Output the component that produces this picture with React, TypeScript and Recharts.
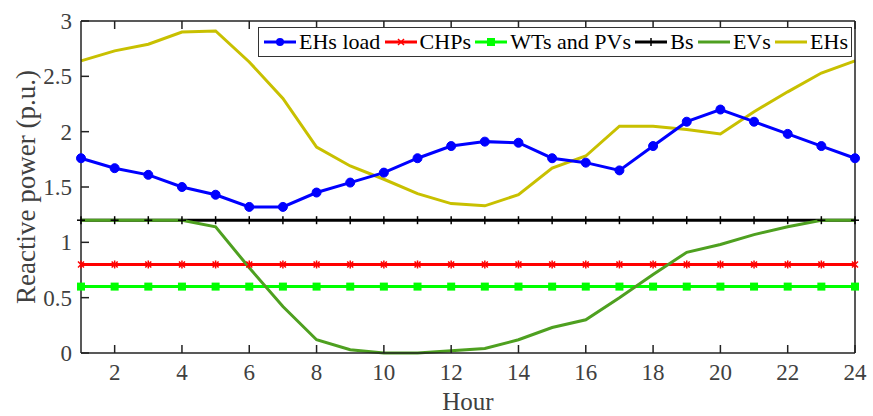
import React from "react";
import { LineChart, Line, XAxis, YAxis } from "recharts";

const hours = [1, 2, 3, 4, 5, 6, 7, 8, 9, 10, 11, 12, 13, 14, 15, 16, 17, 18, 19, 20, 21, 22, 23, 24];
const ehsLoad = [1.76, 1.67, 1.61, 1.5, 1.43, 1.32, 1.32, 1.45, 1.54, 1.63, 1.76, 1.87, 1.91, 1.9, 1.76, 1.72, 1.65, 1.87, 2.09, 2.2, 2.09, 1.98, 1.87, 1.76];
const chps = hours.map(() => 0.8);
const wtsPvs = hours.map(() => 0.6);
const bs = hours.map(() => 1.2);
const evs = [1.2, 1.2, 1.2, 1.2, 1.14, 0.77, 0.42, 0.12, 0.03, 0, 0, 0.02, 0.04, 0.12, 0.23, 0.3, 0.5, 0.71, 0.91, 0.98, 1.07, 1.14, 1.2, 1.2];
const ehs = [2.64, 2.73, 2.79, 2.9, 2.91, 2.63, 2.3, 1.86, 1.69, 1.57, 1.44, 1.35, 1.33, 1.43, 1.67, 1.78, 2.05, 2.05, 2.02, 1.98, 2.18, 2.36, 2.53, 2.64];

const xTicks = [2, 4, 6, 8, 10, 12, 14, 16, 18, 20, 22, 24];
const yTicks = [0, 0.5, 1, 1.5, 2, 2.5, 3];

const data = hours.map((h, i) => ({
  hour: h,
  ehsLoad: ehsLoad[i],
  chps: chps[i],
  wtsPvs: wtsPvs[i],
  bs: bs[i],
  evs: evs[i],
  ehs: ehs[i],
}));

const FONT = "Liberation Serif, Times New Roman, serif";
const TEXT = "#404040";
const txt = { fontFamily: FONT, fill: TEXT };

const BottomTick = ({ x, y, payload }: any) => (
  <g>
    <line x1={x} y1={y} x2={x} y2={y - 8} stroke="#222" strokeWidth={1.5} />
    <text x={x} y={y + 27} textAnchor="middle" style={{ ...txt, fontSize: 23 }}>
      {payload.value}
    </text>
  </g>
);

const TopTick = ({ x, y }: any) => (
  <line x1={x} y1={y} x2={x} y2={y + 8} stroke="#222" strokeWidth={1.5} />
);

const LeftTick = ({ x, y, payload }: any) => (
  <g>
    <line x1={x} y1={y} x2={x + 8} y2={y} stroke="#222" strokeWidth={1.5} />
    <text x={x - 9} y={y + 8} textAnchor="end" style={{ ...txt, fontSize: 23 }}>
      {payload.value}
    </text>
  </g>
);

const RightTick = ({ x, y }: any) => (
  <line x1={x} y1={y} x2={x - 8} y2={y} stroke="#222" strokeWidth={1.5} />
);

const circleDot = ({ cx, cy, index }: any) => (
  <circle key={index} cx={cx} cy={cy} r={4.5} fill="#0000ff" stroke="#0000ff" />
);

const starDot = ({ cx, cy, index }: any) => (
  <g key={index} stroke="#ff0000" strokeWidth={1.5}>
    <line x1={cx - 3} y1={cy - 3} x2={cx + 3} y2={cy + 3} />
    <line x1={cx - 3} y1={cy + 3} x2={cx + 3} y2={cy - 3} />
    <line x1={cx} y1={cy - 4} x2={cx} y2={cy + 4} />
  </g>
);

const squareDot = ({ cx, cy, index }: any) => (
  <rect key={index} x={cx - 4} y={cy - 4} width={8} height={8} fill="#00ff00" />
);

const plusDot = ({ cx, cy, index }: any) => (
  <g key={index} stroke="#000" strokeWidth={1.5}>
    <line x1={cx - 4} y1={cy} x2={cx + 4} y2={cy} />
    <line x1={cx} y1={cy - 4} x2={cx} y2={cy + 4} />
  </g>
);

const legendItems = [
  { name: "EHs load", color: "#0000ff", marker: "circle" },
  { name: "CHPs", color: "#ff0000", marker: "star" },
  { name: "WTs and PVs", color: "#00ff00", marker: "square" },
  { name: "Bs", color: "#000000", marker: "plus" },
  { name: "EVs", color: "#4ea020", marker: "none" },
  { name: "EHs", color: "#c8c000", marker: "none" },
];

const LegendMarker = ({ color, marker }: any) => (
  <svg width={32} height={10} style={{ marginRight: 3 }}>
    <line x1={0} y1={5} x2={32} y2={5} stroke={color} strokeWidth={3} />
    {marker === "circle" && <circle cx={16} cy={5} r={4} fill={color} />}
    {marker === "square" && <rect x={12} y={1} width={8} height={8} fill={color} />}
    {marker === "star" && (
      <g stroke={color} strokeWidth={1.5}>
        <line x1={13} y1={2} x2={19} y2={8} />
        <line x1={13} y1={8} x2={19} y2={2} />
      </g>
    )}
    {marker === "plus" && (
      <g stroke={color} strokeWidth={1.5}>
        <line x1={12} y1={5} x2={20} y2={5} />
        <line x1={16} y1={1} x2={16} y2={9} />
      </g>
    )}
  </svg>
);

const ChartLegend = () => (
  <div
    style={{
      position: "absolute",
      top: 27,
      left: 258,
      width: 594,
      height: 30,
      boxSizing: "border-box",
      display: "flex",
      alignItems: "center",
      justifyContent: "space-between",
      border: "1px solid #333",
      background: "#fff",
      padding: "0 3px 0 5px",
      fontFamily: FONT,
      fontSize: 22,
      color: "#000",
      whiteSpace: "nowrap",
    }}
  >
    {legendItems.map((it) => (
      <div key={it.name} style={{ display: "flex", alignItems: "center" }}>
        <LegendMarker color={it.color} marker={it.marker} />
        <span>{it.name}</span>
      </div>
    ))}
  </div>
);

export default function App() {
  return (
    <div style={{ position: "absolute", left: 0, top: 0, width: 873, height: 416, background: "#fff" }}>
      <LineChart width={873} height={416} data={data} margin={{ top: 0, right: 0, bottom: 0, left: 0 }}>
        <XAxis
          dataKey="hour"
          type="number"
          domain={[1, 24]}
          ticks={xTicks}
          height={63}
          tickSize={0}
          tickMargin={0}
          tickLine={false}
          tick={<BottomTick />}
          axisLine={{ stroke: "#222", strokeWidth: 1.5 }}
          interval={0}
        />
        <XAxis
          xAxisId="top"
          orientation="top"
          dataKey="hour"
          type="number"
          domain={[1, 24]}
          ticks={xTicks}
          height={21}
          tickSize={0}
          tickMargin={0}
          tickLine={false}
          tick={<TopTick />}
          axisLine={{ stroke: "#222", strokeWidth: 1.5 }}
          interval={0}
        />
        <YAxis
          type="number"
          domain={[0, 3]}
          ticks={yTicks}
          width={81}
          tickSize={0}
          tickMargin={0}
          tickLine={false}
          tick={<LeftTick />}
          axisLine={{ stroke: "#222", strokeWidth: 1.5 }}
          interval={0}
        />
        <YAxis
          yAxisId="right"
          orientation="right"
          type="number"
          domain={[0, 3]}
          ticks={yTicks}
          width={18}
          tickSize={0}
          tickMargin={0}
          tickLine={false}
          tick={<RightTick />}
          axisLine={{ stroke: "#222", strokeWidth: 1.5 }}
          interval={0}
        />
        <Line dataKey="chps" stroke="#ff0000" strokeWidth={3} dot={starDot} isAnimationActive={false} />
        <Line dataKey="wtsPvs" stroke="#00ff00" strokeWidth={3} dot={squareDot} isAnimationActive={false} />
        <Line dataKey="bs" stroke="#000000" strokeWidth={3} dot={plusDot} isAnimationActive={false} />
        <Line dataKey="evs" stroke="#4ea020" strokeWidth={3} dot={false} isAnimationActive={false} />
        <Line dataKey="ehs" stroke="#c8c000" strokeWidth={3} dot={false} isAnimationActive={false} />
        <Line dataKey="ehsLoad" stroke="#0000ff" strokeWidth={3} dot={circleDot} isAnimationActive={false} />
      </LineChart>
      <svg width={873} height={416} style={{ position: "absolute", left: 0, top: 0, pointerEvents: "none" }}>
        <text x={468} y={410} textAnchor="middle" style={{ ...txt, fontSize: 25 }}>
          Hour
        </text>
        <text
          x={0}
          y={0}
          textAnchor="middle"
          transform="translate(35,187) rotate(-90)"
          style={{ ...txt, fontSize: 27 }}
        >
          Reactive power (p.u.)
        </text>
      </svg>
      <ChartLegend />
    </div>
  );
}
